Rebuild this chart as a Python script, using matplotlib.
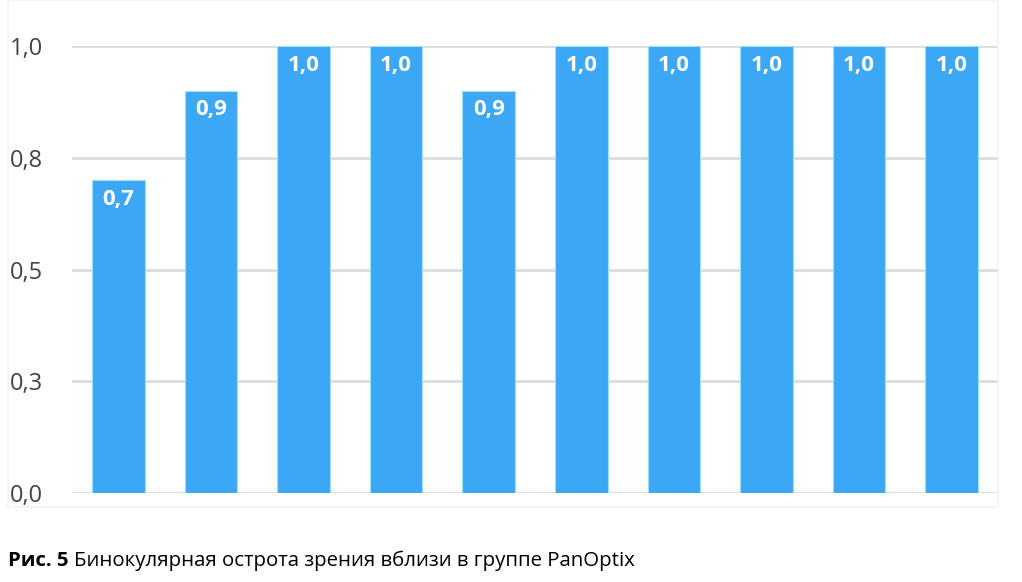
import matplotlib
matplotlib.use("Agg")
import matplotlib.pyplot as plt
from matplotlib.patches import Rectangle

# data
categories = list(range(1, 11))
values = [0.7, 0.9, 1.0, 1.0, 0.9, 1.0, 1.0, 1.0, 1.0, 1.0]
labels = ["0,7", "0,9", "1,0", "1,0", "0,9", "1,0", "1,0", "1,0", "1,0", "1,0"]
yticks = [0.0, 0.25, 0.5, 0.75, 1.0]
ytick_labels = ["0,0", "0,3", "0,5", "0,8", "1,0"]
caption_bold = "Рис. 5"
caption = "Бинокулярная острота зрения вблизи в группе PanOptix"

plt.rcParams['font.family'] = ['Open Sans', 'DejaVu Sans']

fig = plt.figure(figsize=(10.22, 5.82), dpi=100)
ax = fig.add_axes([72/1022, 89/582, 926/1022, 447/582])

x = range(len(categories))
bars = ax.bar(x, values, width=0.57, color='#3CA7F4', edgecolor='#9BE3F5',
              linewidth=0.8, zorder=3)
for xi, v, lab in zip(x, values, labels):
    ax.text(xi, v - 0.043, lab, ha='center', va='center', color='white',
            fontsize=16, fontweight='bold', zorder=4)

ax.set_xlim(-0.5, len(categories) - 0.5)
ax.set_ylim(0, 1.0)
ax.set_yticks(yticks)
ax.set_yticklabels(ytick_labels, fontsize=17, color='#444444')
ax.set_xticks([])
ax.tick_params(axis='y', length=0, pad=21)
ax.grid(axis='y', color='#dcdcdc', linewidth=2, zorder=0)
for s in ax.spines.values():
    s.set_visible(False)

# faint frame around chart area
fig.patches.append(Rectangle((8/1022, (582-507)/582), 990/1022, 507/582,
                             transform=fig.transFigure, fill=False,
                             edgecolor='#f2f2f2', linewidth=1.2))

t = fig.text(8/1022, (582-561)/582, caption_bold, fontsize=14.7, fontweight='bold',
             va='center', ha='left', color='black')
fig.canvas.draw()
bb = t.get_window_extent()
fig.text((bb.x1 + 6)/1022, (582-561)/582, caption, fontsize=14.7,
         va='center', ha='left', color='black')

plt.savefig('out.png', dpi=100)
